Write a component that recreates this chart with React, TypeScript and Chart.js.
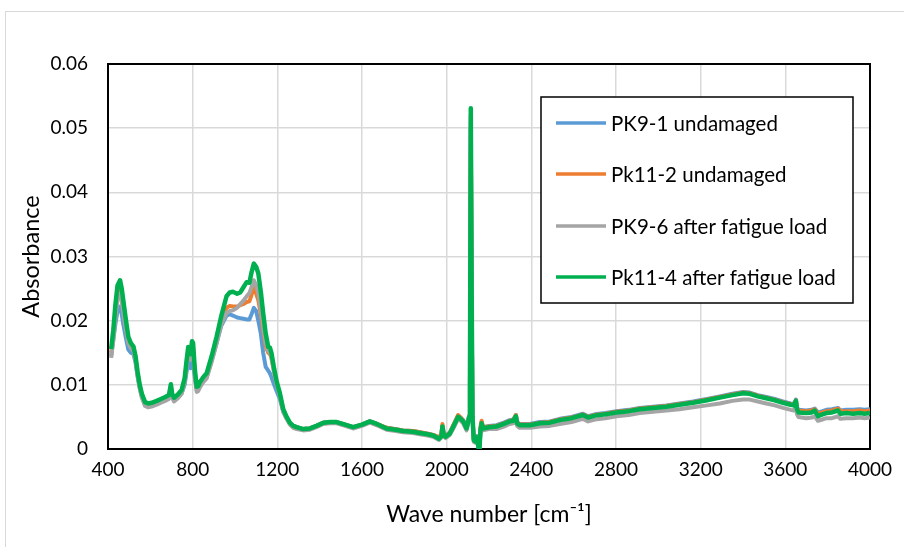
import React, { useEffect, useRef } from "react";
import { Chart, registerables } from "chart.js";

Chart.register(...registerables);

const WAVENUMBER = [
  415, 425, 435, 445, 457, 465, 472, 485, 496, 508,
  520, 530, 540, 550, 560, 575, 590, 606, 630, 650,
  670, 688, 697, 703, 712, 730, 748, 762, 772, 779,
  785, 790, 797, 802, 810, 819, 826, 834, 850, 866,
  890, 913, 935, 960, 975, 990, 1010, 1025, 1040, 1055,
  1068, 1078, 1089, 1100, 1110, 1122, 1133, 1145, 1157, 1165,
  1172, 1185, 1197, 1212, 1228, 1244, 1259, 1275, 1291, 1322,
  1354, 1385, 1417, 1450, 1480, 1520, 1558, 1600, 1637, 1670,
  1716, 1760, 1794, 1840, 1873, 1910, 1936, 1964, 1975, 1980,
  1986, 1995, 2015, 2030, 2039, 2054, 2066, 2078, 2088, 2094,
  2100, 2106, 2110, 2114, 2118, 2122, 2128, 2135, 2143, 2150,
  2155, 2160, 2165, 2172, 2200, 2235, 2270, 2298, 2315, 2327,
  2333, 2345, 2393, 2440, 2487, 2534, 2590, 2644, 2668, 2700,
  2750, 2802, 2860, 2912, 2975, 3038, 3100, 3164, 3230, 3290,
  3350, 3400, 3432, 3470, 3510, 3550, 3589, 3625, 3640, 3650,
  3655, 3662, 3699, 3725, 3739, 3754, 3775, 3794, 3820, 3849,
  3860, 3888, 3920, 3951, 3975, 4000,
];

const PK9_1 = [
  0.0145, 0.0170, 0.0195, 0.0215, 0.0222, 0.0210, 0.0195, 0.0172, 0.0155, 0.0150,
  0.0148, 0.0135, 0.0113, 0.0095, 0.0082, 0.0069, 0.0067, 0.0068, 0.0071, 0.0074,
  0.0077, 0.0080, 0.0093, 0.0081, 0.0076, 0.0080, 0.0087, 0.0100, 0.0122, 0.0135,
  0.0128, 0.0126, 0.0140, 0.0138, 0.0112, 0.0092, 0.0093, 0.0099, 0.0106, 0.0112,
  0.0138, 0.0165, 0.0192, 0.0208, 0.0210, 0.0208, 0.0205, 0.0204, 0.0203, 0.0202,
  0.0202, 0.0210, 0.0220, 0.0215, 0.0200, 0.0180, 0.0150, 0.0128, 0.0122, 0.0118,
  0.0112, 0.0100, 0.0090, 0.0078, 0.0058, 0.0048, 0.0040, 0.0036, 0.0034, 0.0031,
  0.0032, 0.0036, 0.0041, 0.0042, 0.0042, 0.0038, 0.0034, 0.0038, 0.0043, 0.0039,
  0.0033, 0.0031, 0.0029, 0.0028, 0.0026, 0.0024, 0.0022, 0.0018, 0.0022, 0.0036,
  0.0024, 0.0021, 0.0026, 0.0036, 0.0042, 0.0052, 0.0049, 0.0045, 0.0038, 0.0034,
  0.0042, 0.0052, 0.0100, 0.0500, 0.0230, 0.0050, 0.0016, 0.0014, 0.0020, 0.0006,
  0.0004, 0.0032, 0.0042, 0.0034, 0.0036, 0.0037, 0.0041, 0.0045, 0.0046, 0.0053,
  0.0042, 0.0039, 0.0039, 0.0042, 0.0043, 0.0047, 0.0050, 0.0055, 0.0051, 0.0054,
  0.0056, 0.0059, 0.0061, 0.0064, 0.0066, 0.0068, 0.0071, 0.0074, 0.0078, 0.0082,
  0.0086, 0.0089, 0.0088, 0.0084, 0.0081, 0.0078, 0.0074, 0.0071, 0.0070, 0.0077,
  0.0065, 0.0061, 0.0060, 0.0061, 0.0063, 0.0057, 0.0059, 0.0061, 0.0062, 0.0064,
  0.0060, 0.0061, 0.0061, 0.0062, 0.0061, 0.0062,
];

const PK11_2 = [
  0.0150, 0.0178, 0.0212, 0.0240, 0.0248, 0.0236, 0.0220, 0.0190, 0.0168, 0.0160,
  0.0156, 0.0141, 0.0117, 0.0098, 0.0085, 0.0072, 0.0070, 0.0071, 0.0074, 0.0077,
  0.0080, 0.0083, 0.0098, 0.0085, 0.0079, 0.0084, 0.0091, 0.0107, 0.0135, 0.0152,
  0.0144, 0.0142, 0.0160, 0.0157, 0.0120, 0.0095, 0.0096, 0.0102, 0.0110, 0.0116,
  0.0142, 0.0171, 0.0200, 0.0220, 0.0223, 0.0222, 0.0222, 0.0224, 0.0226, 0.0229,
  0.0230, 0.0240, 0.0253, 0.0242, 0.0232, 0.0210, 0.0185, 0.0160, 0.0150, 0.0148,
  0.0142, 0.0120, 0.0102, 0.0085, 0.0061, 0.0049, 0.0041, 0.0036, 0.0034, 0.0031,
  0.0032, 0.0036, 0.0041, 0.0042, 0.0042, 0.0038, 0.0034, 0.0038, 0.0043, 0.0039,
  0.0033, 0.0031, 0.0029, 0.0028, 0.0026, 0.0024, 0.0022, 0.0018, 0.0023, 0.0039,
  0.0024, 0.0020, 0.0025, 0.0036, 0.0042, 0.0053, 0.0049, 0.0044, 0.0037, 0.0033,
  0.0041, 0.0051, 0.0105, 0.0520, 0.0240, 0.0052, 0.0015, 0.0013, 0.0019, 0.0005,
  0.0003, 0.0035, 0.0044, 0.0034, 0.0035, 0.0036, 0.0040, 0.0044, 0.0045, 0.0053,
  0.0041, 0.0038, 0.0038, 0.0041, 0.0042, 0.0046, 0.0049, 0.0054, 0.0050, 0.0053,
  0.0055, 0.0058, 0.0060, 0.0063, 0.0065, 0.0067, 0.0070, 0.0073, 0.0077, 0.0081,
  0.0085, 0.0088, 0.0087, 0.0083, 0.0080, 0.0077, 0.0073, 0.0070, 0.0069, 0.0076,
  0.0064, 0.0060, 0.0059, 0.0060, 0.0062, 0.0055, 0.0057, 0.0059, 0.0060, 0.0063,
  0.0059, 0.0059, 0.0059, 0.0060, 0.0059, 0.0060,
];

const PK9_6 = [
  0.0142, 0.0170, 0.0205, 0.0233, 0.0242, 0.0230, 0.0212, 0.0185, 0.0165, 0.0157,
  0.0153, 0.0138, 0.0113, 0.0094, 0.0080, 0.0067, 0.0065, 0.0066, 0.0069, 0.0072,
  0.0075, 0.0078, 0.0094, 0.0080, 0.0074, 0.0079, 0.0086, 0.0103, 0.0130, 0.0148,
  0.0141, 0.0139, 0.0157, 0.0154, 0.0116, 0.0089, 0.0090, 0.0096, 0.0104, 0.0110,
  0.0136, 0.0165, 0.0194, 0.0212, 0.0215, 0.0216, 0.0220, 0.0226, 0.0231, 0.0238,
  0.0243, 0.0252, 0.0263, 0.0255, 0.0243, 0.0218, 0.0192, 0.0165, 0.0153, 0.0151,
  0.0144, 0.0119, 0.0100, 0.0082, 0.0058, 0.0047, 0.0038, 0.0033, 0.0031, 0.0029,
  0.0030, 0.0034, 0.0039, 0.0040, 0.0040, 0.0036, 0.0032, 0.0036, 0.0041, 0.0037,
  0.0030, 0.0028, 0.0026, 0.0025, 0.0023, 0.0021, 0.0019, 0.0014, 0.0018, 0.0032,
  0.0020, 0.0017, 0.0022, 0.0031, 0.0037, 0.0047, 0.0044, 0.0040, 0.0033, 0.0029,
  0.0037, 0.0047, 0.0100, 0.0510, 0.0235, 0.0046, 0.0011, 0.0010, 0.0015, 0.0002,
  0.0001, 0.0027, 0.0036, 0.0029, 0.0031, 0.0031, 0.0035, 0.0039, 0.0040, 0.0046,
  0.0036, 0.0033, 0.0033, 0.0035, 0.0036, 0.0039, 0.0042, 0.0047, 0.0043, 0.0046,
  0.0048, 0.0051, 0.0053, 0.0056, 0.0058, 0.0060, 0.0062, 0.0065, 0.0068, 0.0071,
  0.0075, 0.0077, 0.0077, 0.0074, 0.0071, 0.0068, 0.0064, 0.0061, 0.0060, 0.0066,
  0.0054, 0.0050, 0.0048, 0.0049, 0.0051, 0.0044, 0.0046, 0.0048, 0.0048, 0.0051,
  0.0047, 0.0048, 0.0048, 0.0049, 0.0048, 0.0049,
];

const PK11_4 = [
  0.0156, 0.0185, 0.0225, 0.0255, 0.0263, 0.0250, 0.0232, 0.0200, 0.0175, 0.0165,
  0.0160, 0.0145, 0.0120, 0.0100, 0.0086, 0.0073, 0.0071, 0.0072, 0.0075, 0.0078,
  0.0081, 0.0084, 0.0101, 0.0086, 0.0080, 0.0085, 0.0092, 0.0110, 0.0140, 0.0159,
  0.0150, 0.0148, 0.0168, 0.0165, 0.0125, 0.0097, 0.0098, 0.0104, 0.0112, 0.0118,
  0.0145, 0.0175, 0.0207, 0.0238, 0.0244, 0.0245, 0.0242, 0.0244, 0.0252, 0.0260,
  0.0259, 0.0275, 0.0289, 0.0284, 0.0274, 0.0245, 0.0212, 0.0180, 0.0159, 0.0158,
  0.0150, 0.0125, 0.0105, 0.0087, 0.0062, 0.0050, 0.0041, 0.0036, 0.0034, 0.0031,
  0.0032, 0.0036, 0.0041, 0.0042, 0.0042, 0.0038, 0.0034, 0.0038, 0.0043, 0.0039,
  0.0032, 0.0030, 0.0028, 0.0027, 0.0025, 0.0023, 0.0021, 0.0016, 0.0020, 0.0035,
  0.0022, 0.0019, 0.0024, 0.0034, 0.0040, 0.0050, 0.0047, 0.0043, 0.0036, 0.0032,
  0.0040, 0.0050, 0.0110, 0.0531, 0.0250, 0.0050, 0.0014, 0.0012, 0.0018, 0.0003,
  0.0001, 0.0030, 0.0040, 0.0032, 0.0034, 0.0035, 0.0039, 0.0043, 0.0044, 0.0051,
  0.0040, 0.0037, 0.0037, 0.0040, 0.0041, 0.0045, 0.0048, 0.0053, 0.0049, 0.0052,
  0.0054, 0.0057, 0.0059, 0.0062, 0.0064, 0.0066, 0.0069, 0.0072, 0.0076, 0.0080,
  0.0084, 0.0087, 0.0086, 0.0082, 0.0079, 0.0076, 0.0072, 0.0069, 0.0068, 0.0075,
  0.0062, 0.0057, 0.0056, 0.0057, 0.0060, 0.0051, 0.0054, 0.0056, 0.0057, 0.0060,
  0.0055, 0.0056, 0.0055, 0.0056, 0.0055, 0.0056,
];

const SERIES_LABELS = [
  "PK9-1 undamaged",
  "Pk11-2 undamaged",
  "PK9-6 after fatigue load",
  "Pk11-4 after fatigue load",
];
const SERIES_VALUES = [PK9_1, PK11_2, PK9_6, PK11_4];
const SERIES_COLORS = ["#5B9BD5", "#ED7D31", "#A5A5A5", "#00B050"];

const X_TICKS = [400, 800, 1200, 1600, 2000, 2400, 2800, 3200, 3600, 4000];
const X_TICK_LABELS = ["400", "800", "1200", "1600", "2000", "2400", "2800", "3200", "3600", "4000"];
const Y_TICKS = [0, 0.01, 0.02, 0.03, 0.04, 0.05, 0.06];
const Y_TICK_LABELS = ["0", "0.01", "0.02", "0.03", "0.04", "0.05", "0.06"];

const X_TITLE = "Wave number [cm\u207B\u00B9]";
const Y_TITLE = "Absorbance";

const FONT = "Lato, 'Open Sans', sans-serif";

const framePlugin = {
  id: "frame",
  beforeDraw(chart: any) {
    const { ctx } = chart;
    ctx.save();
    ctx.fillStyle = "#ffffff";
    ctx.fillRect(0, 0, chart.width, chart.height);
    ctx.strokeStyle = "#d9d9d9";
    ctx.lineWidth = 1;
    ctx.strokeRect(5.5, 11.5, chart.width + 10, chart.height + 10);
    ctx.restore();
  },
  beforeDatasetsDraw(chart: any) {
    const { ctx, chartArea } = chart;
    ctx.save();
    ctx.strokeStyle = "#000000";
    ctx.lineWidth = 2;
    ctx.strokeRect(
      chartArea.left,
      chartArea.top,
      chartArea.right - chartArea.left,
      chartArea.bottom - chartArea.top
    );
    ctx.restore();
  },
};

const legendPlugin = {
  id: "boxLegend",
  afterDraw(chart: any) {
    const { ctx, chartArea } = chart;
    const w = 312;
    const h = 206;
    const x0 = chartArea.right - 329;
    const y0 = chartArea.top + 33;
    ctx.save();
    ctx.fillStyle = "#ffffff";
    ctx.fillRect(x0, y0, w, h);
    ctx.strokeStyle = "#000000";
    ctx.lineWidth = 1.5;
    ctx.strokeRect(x0, y0, w, h);
    chart.data.datasets.forEach((ds: any, i: number) => {
      const y = Math.round(y0 + 26 + i * 51.4);
      ctx.strokeStyle = ds.borderColor;
      ctx.lineWidth = 3.5;
      ctx.beginPath();
      ctx.moveTo(x0 + 15, y);
      ctx.lineTo(x0 + 65, y);
      ctx.stroke();
      ctx.fillStyle = "#000000";
      ctx.font = `20.5px ${FONT}`;
      ctx.textBaseline = "middle";
      ctx.textAlign = "left";
      ctx.fillText(ds.label, x0 + 70, y + 1);
    });
    ctx.restore();
  },
};

export default function App() {
  const canvasRef = useRef<HTMLCanvasElement | null>(null);

  useEffect(() => {
    document.body.style.margin = "0";
    const canvas = canvasRef.current;
    if (!canvas) return;

    const datasets = SERIES_LABELS.map((label, i) => ({
      label,
      data: WAVENUMBER.map((x, j) => ({ x, y: SERIES_VALUES[i][j] })),
      borderColor: SERIES_COLORS[i],
      backgroundColor: SERIES_COLORS[i],
      borderWidth: i === 3 ? 4.5 : 4,
      pointRadius: 0,
      tension: 0,
      fill: false,
      borderJoinStyle: "round" as const,
      order: SERIES_LABELS.length - 1 - i,
    }));

    const chart = new Chart(canvas, {
      type: "line",
      data: { datasets },
      options: {
        animation: false,
        responsive: false,
        devicePixelRatio: 1,
        layout: { padding: { left: 0, right: 34, top: 64, bottom: 0 } },
        plugins: {
          legend: { display: false },
          tooltip: { enabled: false },
        },
        scales: {
          x: {
            type: "linear",
            min: 400,
            max: 4000,
            afterBuildTicks: (scale: any) => {
              scale.ticks = X_TICKS.map((v) => ({ value: v }));
            },
            afterFit: (scale: any) => {
              scale.height = 98;
            },
            ticks: {
              color: "#000000",
              font: { family: FONT, size: 19 },
              padding: 9,
              maxRotation: 0,
              autoSkip: false,
              callback: (_v: any, index: number) => X_TICK_LABELS[index],
            },
            grid: { color: "#d9d9d9", lineWidth: 1.5, drawTicks: false },
            border: { display: false },
            title: {
              display: true,
              text: X_TITLE,
              color: "#000000",
              font: { family: FONT, size: 23 },
              padding: { top: 0, bottom: 19 },
            },
          },
          y: {
            type: "linear",
            min: 0,
            max: 0.06,
            afterBuildTicks: (scale: any) => {
              scale.ticks = Y_TICKS.map((v) => ({ value: v }));
            },
            afterFit: (scale: any) => {
              scale.width = 108;
            },
            ticks: {
              color: "#000000",
              font: { family: FONT, size: 19 },
              padding: 20,
              autoSkip: false,
              callback: (_v: any, index: number) => Y_TICK_LABELS[index],
            },
            grid: { color: "#d9d9d9", lineWidth: 1.5, drawTicks: false },
            border: { display: false },
            title: {
              display: true,
              text: Y_TITLE,
              color: "#000000",
              font: { family: FONT, size: 23.5 },
              padding: { top: 17, bottom: 0 },
            },
          },
        },
      },
      plugins: [framePlugin, legendPlugin],
    });

    return () => {
      chart.destroy();
    };
  }, []);

  return (
    <div style={{ width: 904, height: 547 }}>
      <canvas ref={canvasRef} width={904} height={547} style={{ display: "block" }} />
    </div>
  );
}
